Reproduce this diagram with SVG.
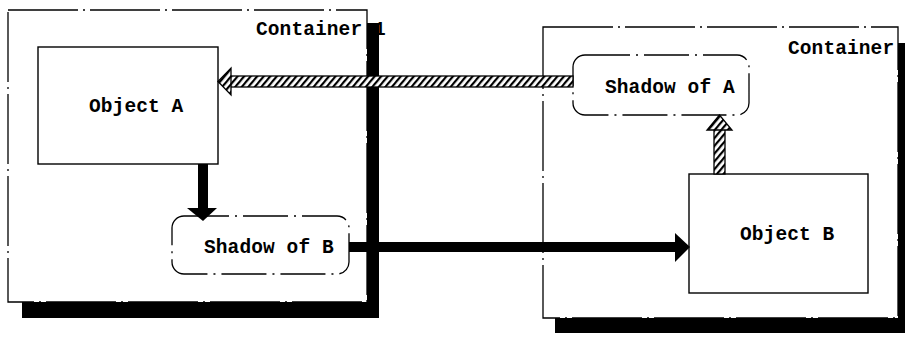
<svg xmlns="http://www.w3.org/2000/svg" width="905" height="337" viewBox="0 0 905 337">
  <defs>
    <style>
      .frame { fill: #fff; stroke: #000; stroke-width: 1.3; stroke-dasharray: 70 5 2 5; }
      .shade { fill: #000; }
      .obj { fill: #fff; stroke: #000; stroke-width: 1.4; }
      .ghost { fill: #fff; stroke: #000; stroke-width: 1.3; stroke-dasharray: 45 6 2 6; }
      .label { font-family: "Liberation Mono", "DejaVu Sans Mono", monospace; font-size: 19.5px; font-weight: bold; letter-spacing: 0.1px; fill: #000; }
      .hatched { fill: url(#hatch); stroke: #000; stroke-width: 1.3; }
      .solid { fill: #000; stroke: none; }
    </style>
    <pattern id="hatch" width="5" height="5" patternUnits="userSpaceOnUse" patternTransform="rotate(40)">
      <rect width="5" height="5" fill="#fff"/>
      <rect width="2.2" height="5" fill="#000"/>
    </pattern>
  </defs>

  <!-- Containers with drop shadows -->
  <g id="container1">
    <rect class="shade" x="22" y="23" width="357" height="295"/>
    <rect class="frame" x="8" y="10" width="359" height="292"/>
    <text class="label" x="256" y="35">Container 1</text>
  </g>
  <g id="container2">
    <rect class="shade" x="555" y="43" width="360" height="290"/>
    <rect class="frame" x="543" y="27" width="355" height="291"/>
    <text class="label" x="788" y="54">Container</text>
  </g>

  <!-- Objects and shadows -->
  <g id="objectA">
    <rect class="obj" x="38" y="47" width="180" height="117"/>
    <text class="label" x="89" y="112">Object A</text>
  </g>
  <g id="shadowB">
    <rect class="ghost" x="172" y="216" width="177" height="58" rx="12" ry="12"/>
    <text class="label" x="204" y="253">Shadow of B</text>
  </g>
  <g id="shadowA">
    <rect class="ghost" x="573" y="55" width="176" height="60" rx="12" ry="12"/>
    <text class="label" x="605" y="93">Shadow of A</text>
  </g>
  <g id="objectB">
    <rect class="obj" x="689" y="174" width="179" height="119"/>
    <text class="label" x="740" y="240">Object B</text>
  </g>

  <!-- Connectors -->
  <g id="connectors">
    <!-- Shadow of A refers back to Object A -->
    <rect class="hatched" x="230" y="76" width="343" height="11"/>
    <polygon class="hatched" points="218,81.5 231,68 231,95"/>
    <!-- Object B refers to Shadow of A -->
    <rect class="hatched" x="714" y="129" width="11" height="45"/>
    <polygon class="hatched" points="719.5,115 707,130 732,130"/>
    <!-- Object A to Shadow of B -->
    <rect class="solid" x="198" y="164" width="10" height="45"/>
    <polygon class="solid" points="187,208 217,208 203,221"/>
    <!-- Shadow of B to Object B -->
    <rect class="solid" x="349" y="242" width="327" height="10"/>
    <polygon class="solid" points="675,233 675,262 690,247"/>
  </g>
</svg>
